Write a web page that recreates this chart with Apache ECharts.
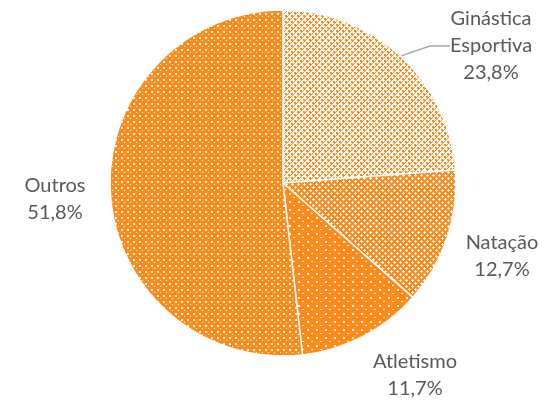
<!DOCTYPE html>
<html><head><meta charset="utf-8">
<script src="https://cdn.jsdelivr.net/npm/echarts@6/dist/echarts.min.js"></script>
<style>html,body{margin:0;padding:0;background:#fff}#c{width:555px;height:403px}</style>
</head><body><div id="c"></div>
<script>
const categories = ['Ginástica\nEsportiva', 'Natação', 'Atletismo', 'Outros'];
const values = [23.8, 12.7, 11.7, 51.8];

const OR = '#FF8A1A';
function tile(w, h, bg, fg, rects) {
  const c = document.createElement('canvas');
  c.width = w; c.height = h;
  const g = c.getContext('2d');
  g.fillStyle = bg; g.fillRect(0, 0, w, h);
  g.fillStyle = fg;
  rects.forEach(r => g.fillRect(r[0], r[1], r[2], r[3]));
  return c;
}
// Ginástica: white ground with orange lattice
const pG = tile(6, 6, '#fff', OR, [[0,0,2,2],[3,3,2,2],[2,1,1,1],[1,2,1,1],[5,4,1,1],[4,5,1,1],[3,0,1,1],[0,3,1,1]]);
// Natação: orange ground with white crosses
const pN = tile(6, 6, OR, '#fff', [[1,0,1,3],[0,1,3,1],[4,3,1,3],[3,4,3,1]]);
// Atletismo: sparse white dots
const pA = tile(9, 8, OR, '#fff', [[1,1,2,2],[5,5,2,1]]);
// Outros: denser white dots
const pO = tile(6, 6, OR, '#fff', [[1,1,2,2],[4,4,1,1]]);
const patterns = [pG, pN, pA, pO];

const labelPos = [[491, 46], [502, 256], [415, 375], [55, 199]];

const chart = echarts.init(document.getElementById('c'), null, {renderer: 'canvas'});
chart.setOption({
  animation: false,
  series: [{
    type: 'pie',
    center: [283, 183],
    radius: 173,
    startAngle: 90,
    clockwise: true,
    data: categories.map((n, i) => ({
      name: n, value: values[i],
      itemStyle: {color: {image: patterns[i], repeat: 'repeat'}},
      labelLine: {show: i === 0}
    })),
    itemStyle: {borderColor: '#fff', borderWidth: 1.5},
    label: {
      show: true,
      position: 'outside',
      color: '#595959',
      fontFamily: 'Lato, "Open Sans", sans-serif',
      fontSize: 20,
      lineHeight: 27,
      align: 'center',
      overflow: 'none',
      formatter: p => p.name + '\n' + p.value.toFixed(1).replace('.', ',') + '%'
    },
    labelLine: {show: true, length: 10, length2: 20, lineStyle: {color: '#A6A6A6', width: 1.5}},
    labelLayout: function (params) {
      const p = labelPos[params.dataIndex];
      return {x: p[0], y: p[1], align: 'center', verticalAlign: 'middle'};
    }
  }]
});
</script></body></html>
